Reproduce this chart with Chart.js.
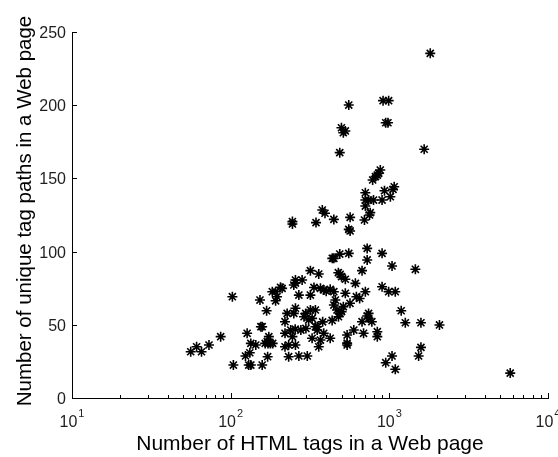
<!DOCTYPE html>
<html>
<head>
<meta charset="utf-8">
<script src="https://cdn.jsdelivr.net/npm/chart.js@4.4.1/dist/chart.umd.min.js"></script>
<style>
  html, body { margin: 0; padding: 0; background: #fff; }
  #wrap { width: 558px; height: 457px; }
</style>
</head>
<body>
<div id="wrap"><canvas id="chart"></canvas></div>
<script>
// Number of HTML tags in a page (x) and unique tag paths (y)
const htmlTags = [
    102.5, 56, 61, 65.5, 73, 86.5, 104, 130, 134, 158,
    127, 124, 132, 134, 144, 155, 158, 153, 168.5, 165,
    172, 178, 184, 170, 174, 171, 183, 192, 206, 211,
    196, 192, 227, 220, 220, 220, 232,
    725, 725, 900, 1040, 1459, 673, 437, 447, 487, 555,
    477, 490, 500, 528, 611, 706, 900, 990, 1090,
    318, 359, 256, 282, 250, 256, 368, 387, 424, 400, 335,
    269, 318, 447, 457, 447, 468, 489, 478, 513, 565, 620, 528, 500, 650,
    256, 250, 239, 245, 277, 290, 297, 318, 342, 255, 298,
    232, 256, 269, 304,
    326, 351, 386, 368, 424, 359, 342, 351, 326, 310, 380, 436,
    597, 542, 542, 542, 688, 740, 776, 673, 840, 840, 740, 725,
    1188, 1261, 1582, 2070, 1582, 1530, 1040, 949, 1090, 5780,
    1811, 555, 913, 990, 949, 980, 499, 528, 513, 487, 1658,
    877, 856, 840, 818, 785, 1073, 1055, 932, 1015,
    706, 706, 740, 795, 900, 706, 758, 750, 697,
    378, 393, 447, 566, 345, 245, 245, 555, 566
];
const tagPaths = [
    69.2, 31.6, 35, 31.6, 36.2, 41.9, 22.5, 22.5, 22.5, 22.5,
    44.2, 28.7, 30.9, 37.3, 36.2, 48.7, 48.7, 66.9, 59.6, 37.3,
    37.3, 37.3, 37.3, 38.5, 41.9, 28.2, 72.6, 72.6, 75.6, 74.9,
    69.2, 66.4, 57.8, 52.1, 44.2, 35, 28.2,
    102.2, 94.3, 98.8, 90.2, 87.9, 87, 95.4, 95.4, 98.3, 98.8,
    85.6, 84.5, 82.9, 81.1, 78.3, 72.6, 76, 72.6, 72.6,
    87, 84.7, 80.6, 80.6, 77.2, 78.5, 74.9, 73.8, 74.2, 73, 75.5,
    70.3, 70.3, 72.6, 66.9, 63.5, 60.1, 57.8, 55.5, 62.4, 64.7, 69.2, 71.5, 59, 68,
    61.3, 57.8, 46.4, 41.9, 46.4, 55.5, 57.8, 60.1, 60.1, 47, 47.5,
    36.2, 36.2, 28.7, 28.7,
    40.8, 46.4, 44.2, 39.6, 40.8, 35, 48.7, 48.7, 54.4, 53.3, 52, 53,
    46.4, 43, 36.2, 37.5, 44.2, 57.8, 52.1, 52.1, 45.3, 41.9, 54.4, 56,
    59.6, 51.4, 51.4, 49.9, 34.6, 28.7, 28.7, 24.1, 19.6, 17,
    235.4, 200.1, 203.1, 203.1, 188, 188, 184.6, 182.4, 181.2, 167.6, 169.9,
    155.7, 153.5, 152.3, 151.2, 148.9, 144.3, 142.5, 141.6, 137.5,
    140.2, 135.2, 135.2, 135.2, 135.2, 131.1, 126.6, 125, 121.6,
    128.4, 126.2, 122, 123.4, 119.8, 120.5, 118.9, 115.2, 114.1
];
const yTicks = [0, 50, 100, 150, 200, 250];
const xDecades = [1, 2, 3, 4];   // tick labels are 10^n
const xTitle = 'Number of HTML tags in a Web page';
const yTitle = 'Number of unique tag paths in a Web page';

const points = htmlTags.map((x, i) => ({ x: x, y: tagPaths[i] }));
const FONT = '"Liberation Sans", Arial, sans-serif';
const INK = '#1e1e1e';

// Matlab-style axes: inward ticks, superscript decade labels, titles
const axesPlugin = {
    id: 'matlabAxes',
    afterDraw(chart) {
        const ctx = chart.ctx;
        const xs = chart.scales.x;
        const ys = chart.scales.y;
        const area = chart.chartArea;
        ctx.save();
        ctx.strokeStyle = '#000';
        ctx.lineWidth = 1;
        ctx.fillStyle = INK;

        // y ticks and labels
        ctx.font = '16px ' + FONT;
        ctx.textAlign = 'right';
        ctx.textBaseline = 'middle';
        yTicks.forEach(v => {
            const py = Math.round(ys.getPixelForValue(v)) + 0.5;
            ctx.beginPath();
            ctx.moveTo(area.left, py);
            ctx.lineTo(area.left + 5, py);
            ctx.stroke();
            ctx.fillText(String(v), area.left - 6, py + 1);
        });

        // x ticks (major and minor)
        xDecades.forEach((n, i) => {
            const base = Math.pow(10, n);
            const px = Math.round(xs.getPixelForValue(base)) + 0.5;
            ctx.beginPath();
            ctx.moveTo(px, area.bottom);
            ctx.lineTo(px, area.bottom - 5);
            ctx.stroke();
            if (i < xDecades.length - 1) {
                for (let m = 2; m <= 9; m++) {
                    const mx = Math.round(xs.getPixelForValue(base * m)) + 0.5;
                    ctx.beginPath();
                    ctx.moveTo(mx, area.bottom);
                    ctx.lineTo(mx, area.bottom - 3);
                    ctx.stroke();
                }
            }
        });

        // x decade labels 10^n
        ctx.textBaseline = 'alphabetic';
        ctx.textAlign = 'left';
        xDecades.forEach(n => {
            const px = xs.getPixelForValue(Math.pow(10, n));
            ctx.font = '16px ' + FONT;
            const w1 = ctx.measureText('10').width;
            ctx.font = '11px ' + FONT;
            const w2 = ctx.measureText(String(n)).width;
            const x0 = px - (w1 + w2 + 1) / 2;
            ctx.font = '16px ' + FONT;
            ctx.fillText('10', x0, 427);
            ctx.font = '11px ' + FONT;
            ctx.fillText(String(n), x0 + w1 + 1, 417);
        });

        // axis titles
        ctx.fillStyle = '#000';
        ctx.textAlign = 'center';
        ctx.font = '21px ' + FONT;
        ctx.fillText(xTitle, (area.left + area.right) / 2, 450);
        ctx.font = '20.5px ' + FONT;
        ctx.translate(31, 211);
        ctx.rotate(-Math.PI / 2);
        ctx.fillText(yTitle, 0, 0);
        ctx.restore();
    }
};

new Chart(document.getElementById('chart'), {
    type: 'scatter',
    data: {
        datasets: [{
            data: points,
            pointStyle: 'star',
            pointRadius: 5,
            pointHoverRadius: 5,
            borderColor: '#000',
            backgroundColor: '#000',
            borderWidth: 1.6
        }]
    },
    options: {
        responsive: true,
        maintainAspectRatio: false,
        animation: false,
        devicePixelRatio: 1,
        layout: { padding: { top: 32, right: 10, left: 0, bottom: 0 } },
        plugins: { legend: { display: false }, tooltip: { enabled: false } },
        scales: {
            x: {
                type: 'logarithmic',
                min: 10,
                max: 10000,
                grid: { display: false },
                border: { display: true, color: '#000', width: 1 },
                ticks: { display: false },
                afterFit: s => { s.height = 59; }
            },
            y: {
                min: 0,
                max: 250,
                grid: { display: false },
                border: { display: true, color: '#000', width: 1 },
                ticks: { display: false, stepSize: 50 },
                afterFit: s => { s.width = 72; }
            }
        }
    },
    plugins: [axesPlugin]
});
</script>
</body>
</html>
